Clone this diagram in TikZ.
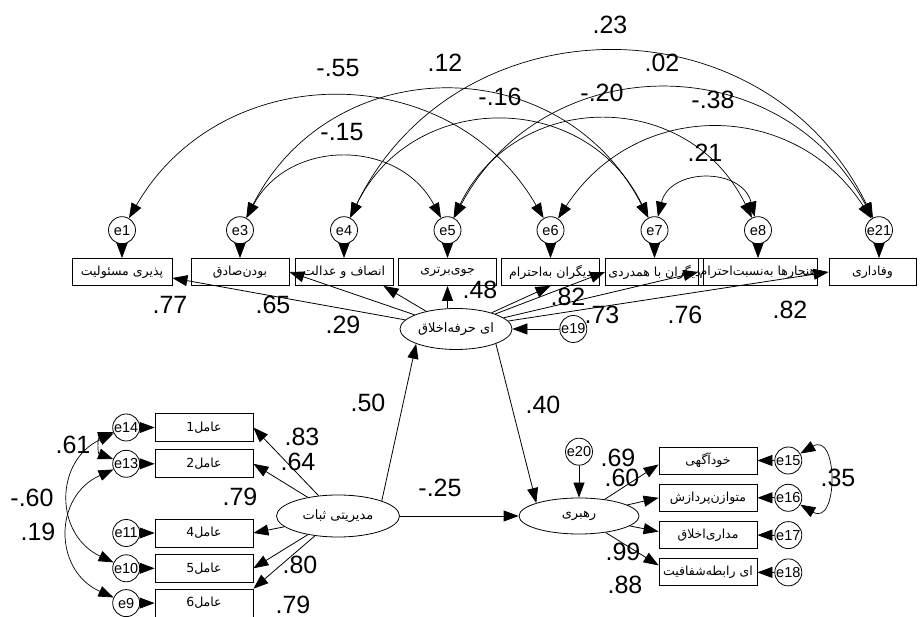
\documentclass[tikz,border=0pt]{standalone}
\usepackage{fontspec}
\setmainfont{Liberation Sans}
\newfontfamily\fa[Script=Arabic]{DejaVu Sans}
\TeXXeTstate=1
\usetikzlibrary{shapes.geometric, arrows.meta, positioning}

\begin{document}
\begin{tikzpicture}[
  x=1pt, y=1pt,
  box/.style={draw, rectangle, line width=0.8pt, minimum width=98pt, minimum height=27pt, inner sep=1pt, font=\fa\fontsize{12.5}{14}\selectfont},
  err/.style={draw, circle, line width=0.8pt, minimum size=27pt, inner sep=0pt, font=\fontsize{14.5}{16}\selectfont},
  latent/.style={draw, ellipse, line width=0.8pt, inner sep=0pt, font=\fa\fontsize{13}{15}\selectfont},
  coef/.style={inner sep=0pt, font=\fontsize{25}{27}\selectfont},
  arrow/.style={line width=0.8pt, -{Triangle[length=15pt, width=11pt]}},
  covarrow/.style={line width=0.7pt, {Triangle[length=15pt, width=11pt]}-{Triangle[length=15pt, width=11pt]}}
]
  \useasboundingbox (0,0) rectangle (920,617);

  % indicators of professional ethics
  \node (resp) [box, minimum width=100pt] at (122,345) {\beginR پذیری مسئولیت\endR};
  \node (honest) [box] at (240,345) {\beginR بودن‌صادق\endR};
  \node (fair) [box] at (344,345) {\beginR انصاف و عدالت\endR};
  \node (excel) [box] at (447.5,345) {\beginR جوی‌برتری\endR};
  \node (respect) [box] at (550.5,345) {\beginR دیگران به‌احترام\endR};
  \node (empathy) [box] at (654.5,345) {\beginR دیگران با همدردی\endR};
  \node (norms) [box] at (758,345) {\beginR هنجارها به‌نسبت‌احترام\endR};
  \node (loyal) [box, minimum width=87pt] at (872.5,345) {\beginR وفاداری\endR};

  \node (e1) [err, above=14pt of resp] {e1};
  \node (e3) [err, above=14pt of honest] {e3};
  \node (e4) [err, above=14pt of fair] {e4};
  \node (e5) [err, above=14pt of excel] {e5};
  \node (e6) [err, above=14pt of respect] {e6};
  \node (e7) [err, above=14pt of empathy] {e7};
  \node (e8) [err, above=14pt of norms] {e8};
  \node (e21) [err, above=14pt of loyal, xshift=6.5pt] {e21};

  % latent variables
  \node (ethics) [latent, minimum width=112pt, minimum height=41pt] at (456,288) {\beginR ای حرفه‌اخلاق\endR};
  \node (e19) [err, right=47pt of ethics] {e19};
  \node (stability) [latent, minimum width=123pt, minimum height=42pt] at (338,101) {\beginR مدیریتی ثبات\endR};
  \node (leadership) [latent, minimum width=120pt, minimum height=36pt] at (579,101) {\beginR رهبری\endR};
  \node (e20) [err, above=32pt of leadership] {e20};

  % indicators of leadership
  \node (aware) [box] at (708,156.5) {خودآگهی};
  \node (balanced) [box, below=9.5pt of aware] {\beginR متوازن‌پردازش\endR};
  \node (moral) [box, below=9.5pt of balanced] {\beginR مداری‌اخلاق\endR};
  \node (transp) [box, below=9.5pt of moral] {\beginR ای رابطه‌شفافیت\endR};
  \node (e15) [err, right=17pt of aware] {e15};
  \node (e16) [err, right=17pt of balanced] {e16};
  \node (e17) [err, right=17pt of moral] {e17};
  \node (e18) [err, right=17pt of transp] {e18};

  % indicators of managerial stability
  \node (fac1) [box, minimum height=28pt] at (204,189.5) {عامل{}1};
  \node (fac2) [box, minimum height=28pt, below=7.5pt of fac1] {عامل{}2};
  \node (fac4) [box, minimum height=28pt] at (204,84) {عامل{}4};
  \node (fac5) [box, minimum height=28pt, below=6.5pt of fac4] {عامل{}5};
  \node (fac6) [box, minimum height=28pt, below=6pt of fac5] {عامل{}6};
  \node (e14) [err, left=14.5pt of fac1] {e14};
  \node (e13) [err, left=14.5pt of fac2] {e13};
  \node (e11) [err, left=14.5pt of fac4] {e11};
  \node (e10) [err, left=14.5pt of fac5] {e10};
  \node (e9) [err, left=14.5pt of fac6] {e9};

  % error terms
  \draw [arrow] (e1) -- (resp);
  \draw [arrow] (e3) -- (honest);
  \draw [arrow] (e4) -- (fair);
  \draw [arrow] (e5) -- (excel);
  \draw [arrow] (e6) -- (respect);
  \draw [arrow] (e7) -- (empathy);
  \draw [arrow] (e8) -- (norms);
  \draw [arrow] (e21) -- (e21 |- loyal.north);
  \draw [arrow] (e19) -- (ethics);
  \draw [arrow] (e20) -- (leadership);
  \draw [arrow] (e15) -- (aware);
  \draw [arrow] (e16) -- (balanced);
  \draw [arrow] (e17) -- (moral);
  \draw [arrow] (e18) -- (transp);
  \draw [arrow] (e14) -- (fac1);
  \draw [arrow] (e13) -- (fac2);
  \draw [arrow] (e11) -- (fac4);
  \draw [arrow] (e10) -- (fac5);
  \draw [arrow] (e9) -- (fac6);

  % loadings
  \draw [arrow] (ethics) -- ([yshift=-6pt]resp.east);
  \draw [arrow] (ethics) -- (honest.east);
  \draw [arrow] (ethics) -- ([xshift=-10pt]fair.south east);
  \draw [arrow] (excel |- ethics.north) -- (excel);
  \draw [arrow] (ethics) -- (respect.south);
  \draw [arrow] (ethics) -- (empathy.west);
  \draw [arrow] (ethics) -- (norms.west);
  \draw [arrow] (ethics) -- (loyal.west);
  \draw [arrow] (stability) -- (fac1.east);
  \draw [arrow] (stability) -- (fac2.east);
  \draw [arrow] (stability) -- (fac4.east);
  \draw [arrow] (stability) -- (fac5.east);
  \draw [arrow] (stability) -- (fac6.north east);
  \draw [arrow] (leadership) -- ([yshift=-4pt]aware.west);
  \draw [arrow] (leadership) -- (balanced.west);
  \draw [arrow] (leadership) -- ([yshift=3.5pt]moral.west);
  \draw [arrow] (leadership) -- ([yshift=7pt]transp.west);

  % structural paths
  \draw [arrow] (stability.north east) -- (ethics.south west);
  \draw [arrow] (ethics.south east) -- (leadership.north west);
  \draw [arrow] (stability) -- (leadership);

  % covariances
  \draw [covarrow] (e1) to[bend left=60, looseness=1.15] (e6);
  \draw [covarrow] (e3) to[bend left=62, looseness=1.19] (e5);
  \draw [covarrow] (e3) to[bend left=63, looseness=1.21] (e7);
  \draw [covarrow] (e4) to[bend left=64, looseness=1.2] (e21);
  \draw [covarrow] (e4) to[bend left=64, looseness=1.23] (e7);
  \draw [covarrow] (e5) to[bend left=62, looseness=1.19] (e21);
  \draw [covarrow] (e5) to[bend left=64, looseness=1.24] (e8);
  \draw [covarrow] (e6) to[bend left=57, looseness=1.17] (e21);
  \draw [covarrow] (e7) to[bend left=76, looseness=1.35] (e8);
  \draw [covarrow] (e14) to[bend right=70, looseness=1.6] (e13);
  \draw [covarrow] (e14) to[bend right=65, looseness=1.3] (e10);
  \draw [covarrow] (e13) to[bend right=66, looseness=1.32] (e9);
  \draw [covarrow] (e15) to[bend left=120, looseness=2.2] (e16);

  % estimates
  \node (w1) [coef] at (170,312) {.77};
  \node (w2) [coef] at (273,312) {.65};
  \node (w3) [coef] at (343,292) {.29};
  \node (w4) [coef] at (480,327) {.48};
  \node (w5) [coef] at (568,320) {.82};
  \node (w6) [coef] at (602,302) {.73};
  \node (w7) [coef] at (685,302) {.76};
  \node (w8) [coef] at (790,307) {.82};
  \node (v1) [coef] at (302,180) {.83};
  \node (v2) [coef] at (298,155) {.64};
  \node (v3) [coef] at (240,120) {.79};
  \node (v4) [coef] at (300,52) {.80};
  \node (v5) [coef] at (293,12) {.79};
  \node (u1) [coef] at (618,159) {.69};
  \node (u2) [coef] at (622,139) {.60};
  \node (u3) [coef] at (623,65) {.99};
  \node (u4) [coef] at (625,32) {.88};
  \node (p1) [coef] at (368,214) {.50};
  \node (p2) [coef] at (543,212) {.40};
  \node (p3) [coef] at (440,129) {-.25};
  \node (r1) [coef] at (338,549) {-.55};
  \node (r2) [coef] at (445,554) {.12};
  \node (r3) [coef] at (500,520) {-.16};
  \node (r4) [coef] at (342,485) {-.15};
  \node (r5) [coef] at (610,592) {.23};
  \node (r6) [coef] at (662,554) {.02};
  \node (r7) [coef] at (602,524) {-.20};
  \node (r8) [coef] at (713,517) {-.38};
  \node (r9) [coef] at (705,464) {.21};
  \node (q1) [coef] at (73,172) {.61};
  \node (q2) [coef] at (32,119) {-.60};
  \node (q3) [coef] at (38,85) {.19};
  \node (q4) [coef] at (838,139) {.35};
\end{tikzpicture}
\end{document}
